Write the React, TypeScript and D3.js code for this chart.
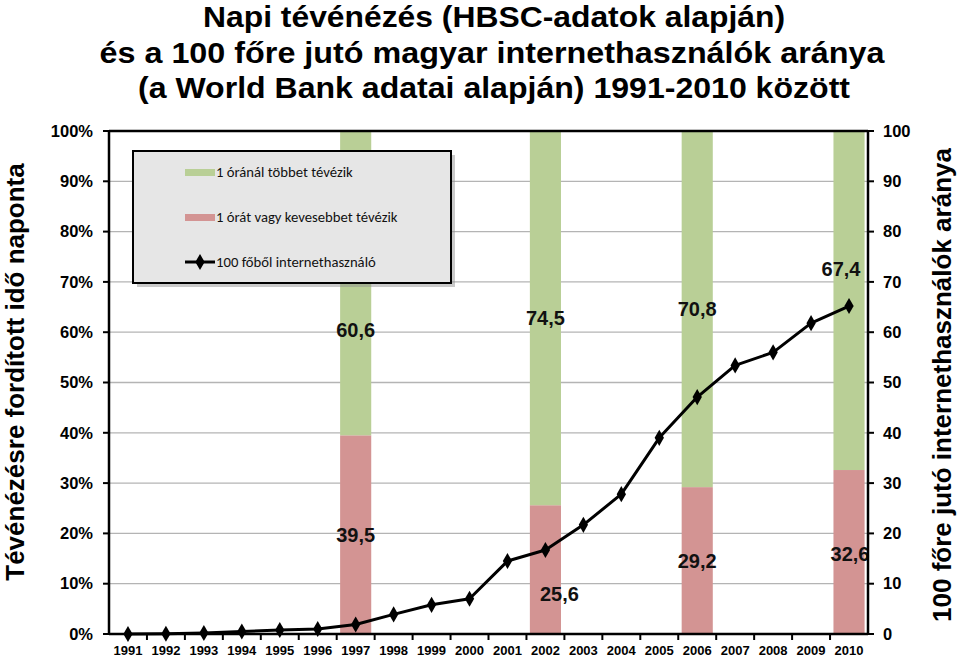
import React from 'react';
import * as d3 from 'd3';

const years = d3.range(1991, 2011).map(String);
// 100 főre jutó internethasználók (World Bank)
const internetUsers = [0, 0.05, 0.2, 0.5, 0.8, 1.0, 1.9, 3.9, 5.8, 7.0, 14.5, 16.7, 21.7, 27.8, 39.0, 47.1, 53.4, 56.0, 61.8, 65.2];
// HBSC survey years
const surveyYears = ['1997', '2002', '2006', '2010'];
const lessTv = [39.5, 25.6, 29.2, 32.6];
const moreTv = [60.6, 74.5, 70.8, 67.4];
const leftTicks = d3.range(0, 101, 10);
const rightTicks = d3.range(0, 101, 10);

const GREEN = '#b9cf96';
const RED = '#d39493';

// manual label nudges (px) where the original label was moved by hand
const lowerLabelShift = [{ dx: 0, dy: 0 }, { dx: 14, dy: 24 }, { dx: 0, dy: 0 }, { dx: 1, dy: 2 }];
const upperLabelShift = [{ dx: 0, dy: 47 }, { dx: 0, dy: 0 }, { dx: 0, dy: 0 }, { dx: -8, dy: -32 }];

const width = 960;
const height = 658;
const left = 109;
const right = 868;
const top = 131;
const bottom = 634;

const App: React.FC = () => {
	const x = d3.scaleBand<string>().domain(years).range([left, right]).padding(0);
	const step = x.step();
	const barW = step * 0.82;
	const cx = (d: string) => (x(d) ?? 0) + step / 2;
	const y = d3.scaleLinear().domain([0, 100]).range([bottom, top]);
	const y2 = d3.scaleLinear().domain([0, 100]).range([bottom, top]);

	const line = d3.line<number>()
		.x((_, i) => cx(years[i]))
		.y(d => y2(d));
	const diamond = d3.symbol().type(d3.symbolDiamond).size(75)();

	const font = 'Liberation Sans, Arial, sans-serif';
	const legendFont = 'Carlito, Lato, Open Sans, sans-serif';

	return (
		<svg width={width} height={height} style={{ position: 'absolute', left: 0, top: 0 }}>
			<rect width={width} height={height} fill="#fff" />
			{/* title */}
			<g fontFamily={font} fontWeight="bold" fontSize={29} textAnchor="middle" fill="#000" style={{ whiteSpace: 'pre' }}>
				<text x={494} y={27} textLength={582} lengthAdjust="spacingAndGlyphs">Napi tévénézés (HBSC-adatok alapján)</text>
				<text x={492} y={63} textLength={785} lengthAdjust="spacingAndGlyphs">és a 100 főre jutó magyar internethasználók  aránya</text>
				<text x={494} y={98} textLength={712} lengthAdjust="spacingAndGlyphs">(a World Bank adatai alapján) 1991-2010 között</text>
			</g>

			{/* grid */}
			{leftTicks.filter(t => t > 0 && t < 100).map(t => (
				<line key={t} x1={left} x2={right} y1={y(t)} y2={y(t)} stroke="#b4b4b4" strokeWidth={1.3} />
			))}

			{/* bars */}
			{surveyYears.map((yr, i) => (
				<g key={yr}>
					<rect x={cx(yr) - barW / 2} width={barW} y={y(lessTv[i])} height={y(0) - y(lessTv[i])} fill={RED} />
					<rect x={cx(yr) - barW / 2} width={barW} y={y(100)} height={y(lessTv[i]) - y(100)} fill={GREEN} />
				</g>
			))}

			{/* line */}
			<path d={line(internetUsers) ?? ''} fill="none" stroke="#000" strokeWidth={3} strokeLinejoin="round" />
			{internetUsers.map((v, i) => (
				<path key={i} d={diamond ?? ''} transform={`translate(${cx(years[i])},${y2(v)})`} fill="#000" />
			))}

			{/* bar labels */}
			<g fontFamily={font} fontWeight="bold" fontSize={20} textAnchor="middle" fill="#111">
				{surveyYears.map((yr, i) => (
					<g key={yr}>
						<text x={cx(yr) + lowerLabelShift[i].dx} y={y(lessTv[i] / 2) + lowerLabelShift[i].dy} dy="0.35em">
							{String(lessTv[i]).replace('.', ',')}
						</text>
						<text x={cx(yr) + upperLabelShift[i].dx} y={y(lessTv[i] + moreTv[i] / 2) + upperLabelShift[i].dy} dy="0.35em">
							{String(moreTv[i]).replace('.', ',')}
						</text>
					</g>
				))}
			</g>

			{/* axes frame */}
			<line x1={left} x2={right} y1={top} y2={top} stroke="#000" strokeWidth={2.5} />
			<line x1={left} x2={right} y1={bottom} y2={bottom} stroke="#000" strokeWidth={2.5} />
			<line x1={left} x2={left} y1={top - 1} y2={bottom + 1} stroke="#000" strokeWidth={2.5} />
			<line x1={right} x2={right} y1={top - 1} y2={bottom + 1} stroke="#000" strokeWidth={2.5} />

			{/* left axis */}
			<g fontFamily={font} fontWeight="bold" fontSize={16.5} fill="#000">
				{leftTicks.map(t => (
					<g key={t}>
						<line x1={left - 6} x2={left} y1={y(t)} y2={y(t)} stroke="#000" strokeWidth={2} />
						<text x={93} y={y(t)} dy="0.35em" textAnchor="end">{t}%</text>
					</g>
				))}
			</g>
			{/* right axis */}
			<g fontFamily={font} fontWeight="bold" fontSize={16.5} fill="#000">
				{rightTicks.map(t => (
					<g key={t}>
						<line x1={right} x2={right + 6} y1={y2(t)} y2={y2(t)} stroke="#000" strokeWidth={2} />
						<text x={883} y={y2(t)} dy="0.35em" textAnchor="start">{t}</text>
					</g>
				))}
			</g>
			{/* x axis */}
			<g fontFamily={font} fontWeight="bold" fontSize={13} fill="#000">
				{years.map((yr, i) => (
					<g key={yr}>
						{i > 0 && <line x1={x(yr)} x2={x(yr)} y1={bottom} y2={bottom + 6} stroke="#000" strokeWidth={2} />}
						<text x={cx(yr)} y={655} textAnchor="middle">{yr}</text>
					</g>
				))}
			</g>

			{/* axis titles */}
			<text transform="translate(24,372) rotate(-90)" fontFamily={font} fontWeight="bold" fontSize={26} textAnchor="middle">
				Tévénézésre fordított idő naponta
			</text>
			<text transform="translate(951,385) rotate(-90)" fontFamily={font} fontWeight="bold" fontSize={26} textAnchor="middle">
				100 főre jutó internethasználók aránya
			</text>

			{/* legend */}
			<g>
				<rect x={137} y={155} width={318} height={132} fill="#8a8a8a" opacity={0.45} />
				<rect x={133} y={151} width={318} height={132} fill="#e6e6e6" stroke="#000" strokeWidth={2} />
				<rect x={185} y={169} width={30} height={7} fill={GREEN} />
				<rect x={185} y={214} width={30} height={7} fill={RED} />
				<line x1={185} x2={215} y1={262} y2={262} stroke="#000" strokeWidth={3} />
				<path d={diamond ?? ''} transform="translate(200,262)" fill="#000" />
				<g fontFamily={legendFont} fontSize={14.7} fill="#111">
					<text x={216} y={172} dy="0.35em">1 óránál többet tévézik</text>
					<text x={216} y={217} dy="0.35em">1 órát vagy kevesebbet tévézik</text>
					<text x={216} y={262} dy="0.35em">100 főből internethasználó</text>
				</g>
			</g>
		</svg>
	);
};

export default App;
